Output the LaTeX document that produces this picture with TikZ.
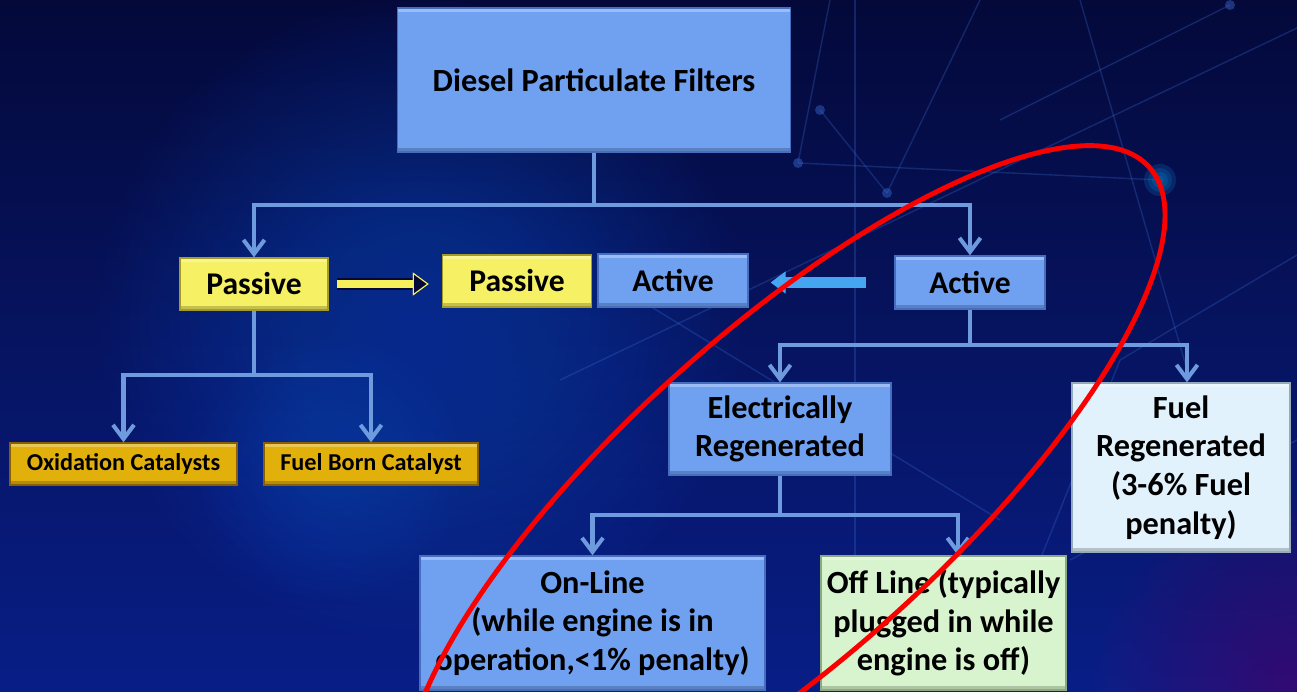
\documentclass[tikz,border=0pt]{standalone}
\usepackage{fontspec}
\setmainfont{Carlito}
\usetikzlibrary{arrows.meta,positioning}

\definecolor{bgtop}{RGB}{4,9,58}
\definecolor{bgbot}{RGB}{8,30,135}
\definecolor{glow}{RGB}{30,90,225}
\definecolor{netline}{RGB}{55,105,205}
\definecolor{boxblue}{RGB}{112,160,240}
\definecolor{boxblueedge}{RGB}{70,110,190}
\definecolor{boxyellow}{RGB}{246,240,100}
\definecolor{boxyellowedge}{RGB}{165,155,40}
\definecolor{boxgold}{RGB}{226,176,10}
\definecolor{boxgoldedge}{RGB}{135,95,0}
\definecolor{boxpale}{RGB}{226,242,252}
\definecolor{boxpaleedge}{RGB}{150,170,190}
\definecolor{boxgreen}{RGB}{216,244,206}
\definecolor{boxgreenedge}{RGB}{140,170,130}
\definecolor{linkblue}{RGB}{110,155,222}
\definecolor{arrowyellow}{RGB}{246,240,90}
\definecolor{arrowblue}{RGB}{70,165,240}
\definecolor{ringred}{RGB}{250,0,0}

\begin{document}
\begin{tikzpicture}[x=0.02cm,y=-0.02cm,
  box/.style={draw=boxblueedge,fill=boxblue,line width=0.8pt,inner sep=0pt,align=center,
    path picture={
      \fill[white,opacity=0.3] (path picture bounding box.north west) rectangle ([yshift=-2.5pt]path picture bounding box.north east);
      \fill[black,opacity=0.2] (path picture bounding box.south west) rectangle ([yshift=2.5pt]path picture bounding box.south east);}},
  yellowbox/.style={box,draw=boxyellowedge,fill=boxyellow},
  goldbox/.style={box,draw=boxgoldedge,fill=boxgold},
  palebox/.style={box,draw=boxpaleedge,fill=boxpale},
  greenbox/.style={box,draw=boxgreenedge,fill=boxgreen},
  bigtext/.style={font=\fontsize{18.4}{22}\selectfont\bfseries},
  midtext/.style={font=\fontsize{18}{21.6}\selectfont\bfseries},
  smalltext/.style={font=\fontsize{13.8}{16.5}\selectfont\bfseries},
  link/.style={draw=linkblue,line width=2.3pt},
  linkarrow/.style={link,-{Straight Barb[length=8pt,width=12pt,line width=2.3pt]}},
  yarrow/.style={draw=arrowyellow,line width=5pt,shorten <=5pt,shorten >=7.5pt,
    preaction={draw=bgtop,line width=6.5pt},
    -{Triangle[length=9pt,width=13pt,fill=bgtop,color=arrowyellow,line width=0.6pt]}},
  barrow/.style={draw=arrowblue,line width=5.7pt,shorten <=16pt,shorten >=12.5pt,
    -{Triangle[length=8.5pt,width=12.5pt,line width=0.6pt]}}]

  \useasboundingbox (0,0) rectangle (1297,692);

  % background
  \shade[top color=bgtop,bottom color=bgbot] (0,0) rectangle (1297,692);
  \foreach \r in {20,30,...,320}
    \fill[glow,opacity=0.018] (420,320) circle (\r);
  \foreach \r in {10,20,...,130}
    \fill[glow,opacity=0.025] (330,470) circle (\r);
  \foreach \r in {10,20,...,200}
    \fill[violet!70!red,opacity=0.02] (1297,692) circle (\r);
  \foreach \a/\b in {{(1080,0)}/{(1190,380)}, {(1297,28)}/{(560,380)}, {(798,163)}/{(1160,180)},
                     {(798,163)}/{(830,0)}, {(820,110)}/{(887,193)}, {(887,193)}/{(980,0)},
                     {(1230,5)}/{(1000,120)}, {(855,0)}/{(855,600)}, {(1297,255)}/{(1120,360)},
                     {(1120,360)}/{(1040,560)}, {(640,300)}/{(1000,520)}, {(1297,440)}/{(1070,560)}}
    \draw[netline,opacity=0.3,line width=0.8pt] \a -- \b;
  \foreach \p in {(798,163),(820,110),(1230,5),(887,193)}
    \fill[netline,opacity=0.45] \p circle (5);
  \foreach \r in {4,8,12,16}
    \fill[cyan!70!blue,opacity=0.2] (1160,180) circle (\r);

  % boxes
  \node[box,bigtext,minimum width=7.86cm,minimum height=2.88cm] (dpf) at (594,80) {Diesel Particulate Filters};
  \node[yellowbox,midtext,minimum width=2.96cm,minimum height=1.04cm] (passL) at (254,284) {Passive};
  \node[yellowbox,midtext,minimum width=2.98cm,minimum height=1.04cm] (passM) at (517,281) {Passive};
  \node[box,midtext,minimum width=3cm,minimum height=1.06cm] (actM) at (673,280.5) {Active};
  \node[box,midtext,minimum width=3cm,minimum height=1.06cm] (actR) at (970,282.5) {Active};
  \node[goldbox,smalltext,minimum width=4.54cm,minimum height=0.84cm] (oxcat) at (123.5,464) {Oxidation Catalysts};
  \node[goldbox,smalltext,minimum width=4.28cm,minimum height=0.84cm] (fbcat) at (371,464) {Fuel Born Catalyst};
  \node[box,bigtext,minimum width=4.44cm,minimum height=1.84cm] (elec) at (780,429) {Electrically\\Regenerated};
  \node[palebox,bigtext,minimum width=4.36cm,minimum height=3.38cm] (fuelreg) at (1181,467.5) {Fuel\\Regenerated\\(3-6\% Fuel\\penalty)};
  \node[box,bigtext,minimum width=6.9cm,minimum height=2.68cm] (online) at (592.5,623) {On-Line\\(while engine is in\\operation,<1\% penalty)};
  \node[greenbox,bigtext,minimum width=4.9cm,minimum height=2.68cm] (offline) at (943.5,623) {Off Line (typically\\plugged in while\\engine is off)};

  % tree connectors
  \coordinate (j1) at (594,205);
  \draw[link] (dpf) -- (j1);
  \draw[linkarrow] (j1) -| (passL);
  \draw[linkarrow] (j1) -| (actR);

  \coordinate (j2) at (254,375);
  \draw[link] (passL) -- (j2);
  \draw[linkarrow] (j2) -| (oxcat);
  \draw[linkarrow] (j2) -| (fbcat);

  \coordinate (j3) at (970,345);
  \draw[link] (actR) -- (j3);
  \draw[linkarrow] (j3) -| (elec);
  \draw[linkarrow] (j3) -| ([xshift=3.4pt]fuelreg.north);

  \coordinate (j4) at (780,515);
  \draw[link] (elec) -- (j4);
  \draw[linkarrow] (j4) -| (online);
  \draw[linkarrow] (j4) -| ([xshift=8.2pt]offline.north);

  % side arrows
  \draw[yarrow] (passL.east) -- (passL.east -| passM.west);
  \draw[barrow] (actR.west) -- (actR.west -| actM.east);

  % red ring
  \begin{scope}
    \clip (0,0) rectangle (1297,692);
    \draw[ringred,line width=2.8pt,rotate around={42:(785,495)}] (785,495) ellipse [x radius=490,y radius=162];
  \end{scope}
\end{tikzpicture}
\end{document}
